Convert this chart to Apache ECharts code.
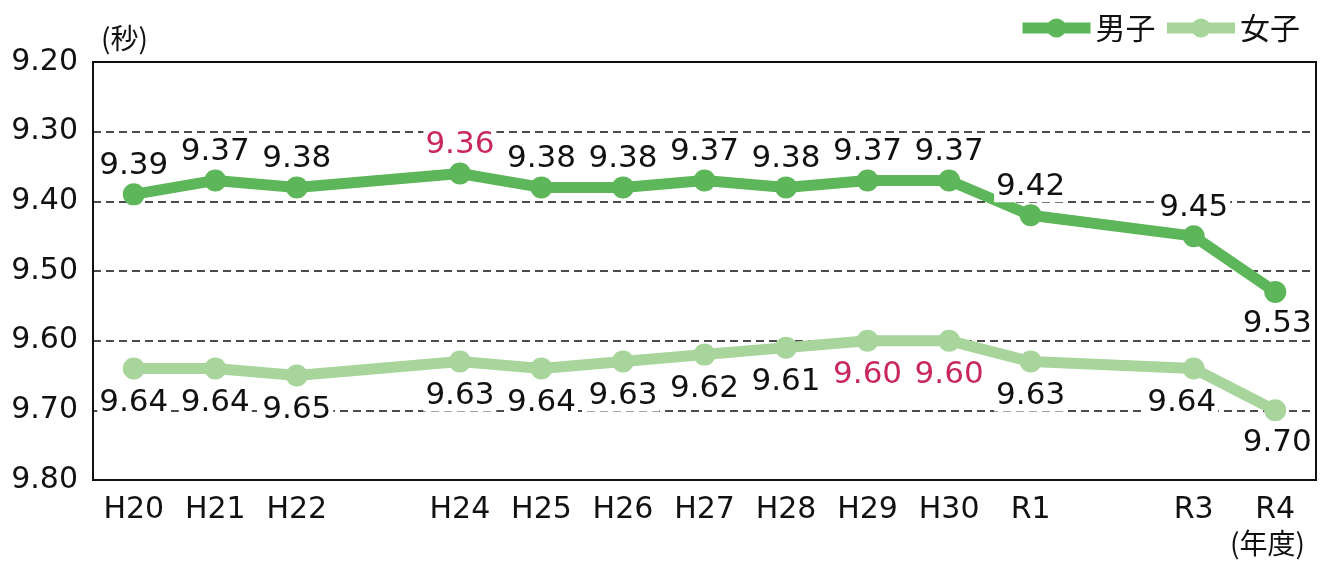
<!DOCTYPE html>
<html>
<head>
<meta charset="utf-8">
<script src="https://cdn.jsdelivr.net/npm/echarts@6/dist/echarts.min.js"></script>
<style>
  html, body { margin: 0; padding: 0; background: #fff; }
  #chart { width: 1325px; height: 562px; }
</style>
</head>
<body>
<div id="chart"></div>
<script>
// 年度 (H23, R2 は未実施のため空欄)
const years = ['H20', 'H21', 'H22', 'H23', 'H24', 'H25', 'H26', 'H27', 'H28', 'H29', 'H30', 'R1', 'R2', 'R3', 'R4'];
const boys  = [9.39, 9.37, 9.38, null, 9.36, 9.38, 9.38, 9.37, 9.38, 9.37, 9.37, 9.42, null, 9.45, 9.53];
const girls = [9.64, 9.64, 9.65, null, 9.63, 9.64, 9.63, 9.62, 9.61, 9.60, 9.60, 9.63, null, 9.64, 9.70];
const yTicks = [9.2, 9.3, 9.4, 9.5, 9.6, 9.7, 9.8];

// ベスト記録（赤字）
const boysBest = [4];
const girlsBest = [9, 10];

const boyColor = '#5db659';
const girlColor = '#a8d59c';
const red = '#c8285c';
const numFont = '"DejaVu Sans", sans-serif';
const jpFont = '"Noto Sans CJK JP", sans-serif';

function buildData(values, best, pos) {
    return values.map((v, i) => {
        if (v === null) return null;
        const label = { color: best.includes(i) ? red : '#111' };
        if (pos[i]) Object.assign(label, pos[i]);
        return { value: v, label: label };
    });
}

// 個別のラベル位置
const boyPos = { 14: { position: 'bottom', distance: 6, offset: [2, 0] } };
const girlPos = { 13: { offset: [-12, 0] }, 14: { distance: 6, offset: [2, 0] } };

const chart = echarts.init(document.getElementById('chart'));

chart.setOption({
    backgroundColor: '#fff',
    animation: false,
    legend: {
        right: 20,
        top: 8,
        itemWidth: 68,
        itemHeight: 24,
        itemGap: 6,
        lineStyle: { width: 11 },
        textStyle: { fontSize: 30, color: '#111', fontFamily: jpFont },
        data: ['男子', '女子']
    },
    graphic: [{
        type: 'text',
        right: 20,
        top: 529,
        style: { text: '(年度)', fontSize: 28, fill: '#111', fontFamily: jpFont }
    }],
    grid: {
        left: 93,
        right: 9,
        top: 62,
        bottom: 82,
        show: true,
        borderColor: '#111',
        borderWidth: 2,
        outerBoundsMode: 'none'
    },
    xAxis: {
        type: 'category',
        data: years,
        boundaryGap: true,
        axisLine: { lineStyle: { color: '#111', width: 2 } },
        axisTick: { show: false },
        axisLabel: {
            fontSize: 30,
            fontFamily: numFont,
            color: '#111',
            margin: 15,
            interval: 0,
            formatter: v => (v === 'H23' || v === 'R2') ? '' : v
        }
    },
    yAxis: {
        type: 'value',
        inverse: true,
        min: 9.2,
        max: 9.8,
        interval: 0.1,
        axisLine: { show: true, lineStyle: { color: '#111', width: 2 } },
        axisTick: { show: false },
        axisLabel: {
            fontSize: 30,
            fontFamily: numFont,
            color: '#111',
            margin: 15,
            padding: [12, 0, 0, 0],
            formatter: v => v.toFixed(2)
        },
        splitLine: { lineStyle: { color: '#111', type: [8, 5], width: 1.5 } },
        name: '(秒)',
        nameLocation: 'start',
        nameGap: 10,
        nameTextStyle: {
            fontSize: 28,
            color: '#111',
            fontFamily: jpFont,
            align: 'left',
            padding: [0, 0, 0, 8]
        }
    },
    series: [
        {
            name: '男子',
            type: 'line',
            data: buildData(boys, boysBest, boyPos),
            connectNulls: true,
            symbol: 'circle',
            symbolSize: 22,
            lineStyle: { color: boyColor, width: 11 },
            itemStyle: { color: boyColor },
            label: {
                show: true,
                position: 'top',
                distance: 2,
                fontSize: 31,
                fontFamily: numFont,
                backgroundColor: '#fff',
                padding: [0, 2],
                formatter: p => p.value.toFixed(2)
            },
            z: 3
        },
        {
            name: '女子',
            type: 'line',
            data: buildData(girls, girlsBest, girlPos),
            connectNulls: true,
            symbol: 'circle',
            symbolSize: 22,
            lineStyle: { color: girlColor, width: 11 },
            itemStyle: { color: girlColor },
            label: {
                show: true,
                position: 'bottom',
                distance: 8,
                fontSize: 31,
                fontFamily: numFont,
                backgroundColor: '#fff',
                padding: [0, 2],
                formatter: p => p.value.toFixed(2)
            },
            z: 2
        }
    ]
});
</script>
</body>
</html>
